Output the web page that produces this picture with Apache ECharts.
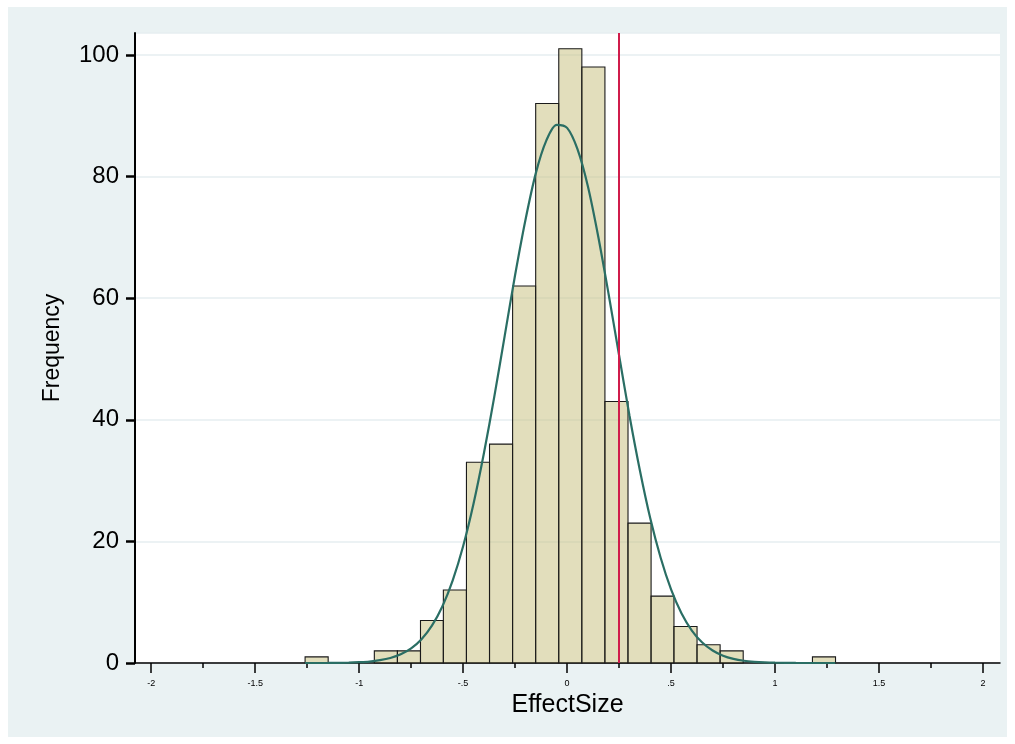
<!DOCTYPE html>
<html>
<head>
<meta charset="utf-8">
<script src="https://cdn.jsdelivr.net/npm/echarts@6/dist/echarts.min.js"></script>
<style>
  body { margin: 0; background: #fff; }
  #wrap { position: relative; width: 1015px; height: 744px; }
  #frame { position: absolute; left: 8px; top: 7px; width: 999px; height: 730px; background: #eaf2f3; }
  #plotbg { position: absolute; left: 135px; top: 33px; width: 865px; height: 630px; background: #fff; }
  #chart { position: absolute; left: 0; top: 0; width: 1015px; height: 744px; }
</style>
</head>
<body>
<div id="wrap">
  <div id="frame"></div>
  <div id="plotbg"></div>
  <div id="chart"></div>
</div>
<script>
// histogram bins (23 bins), edges
var binEdges = [-1.260, -1.149, -1.038, -0.927, -0.816, -0.705, -0.595, -0.484,
    -0.373, -0.262, -0.151, -0.040, 0.071, 0.182, 0.293, 0.404, 0.514, 0.625,
    0.736, 0.847, 0.958, 1.069, 1.180, 1.291];
var binCounts = [1, 0, 0, 2, 2, 7, 12, 33, 36, 62, 92, 101, 98, 43, 23, 11, 6, 3, 2, 0, 0, 0, 1];

// normal density overlay
var curveX = [-1.26, -1.15, -1.05, -1.0, -0.95, -0.9, -0.85, -0.8, -0.75, -0.7,
    -0.65, -0.6, -0.55, -0.5, -0.45, -0.4, -0.35, -0.3, -0.25, -0.2, -0.15, -0.1,
    -0.05, 0, 0.05, 0.1, 0.15, 0.2, 0.25, 0.3, 0.35, 0.4, 0.45, 0.5, 0.55, 0.6,
    0.65, 0.7, 0.75, 0.8, 0.85, 0.9, 0.95, 1.0, 1.1, 1.2, 1.29];
var curveY = [0.0, 0.01, 0.06, 0.13, 0.24, 0.46, 0.82, 1.43, 2.41, 3.92,
    6.14, 9.3, 13.6, 19.2, 26.2, 34.5, 43.8, 53.8, 63.8, 72.9, 80.6, 85.9,
    88.5, 88.0, 84.5, 78.4, 70.1, 60.6, 50.6, 40.7, 31.7, 23.8, 17.3, 12.1, 8.18, 5.34,
    3.36, 2.05, 1.2, 0.68, 0.37, 0.2, 0.1, 0.05, 0.01, 0.0, 0.0];

var refLine = 0.25;

var xMajor = [-2, -1.5, -1, -0.5, 0, 0.5, 1, 1.5, 2];
var xMinor = [-1.75, -1.25, -0.75, -0.25, 0.25, 0.75, 1.25, 1.75];

function drawHistogram() {
    var myChart = echarts.init(document.getElementById('chart'));

    var barData = [];
    binCounts.forEach(function(c, i) {
        if (c > 0) barData.push([binEdges[i], binEdges[i + 1], c]);
    });

    var option = {
        animation: false,
        grid: {
            left: 135, right: 15, top: 33, bottom: 81,
            show: false
        },
        xAxis: [
            {
                type: 'value',
                min: -2.078, max: 2.082,
                name: 'EffectSize',
                nameLocation: 'middle',
                nameGap: 30,
                nameTextStyle: { fontSize: 25, color: '#000', fontFamily: 'Liberation Sans' },
                axisLine: { show: true, onZero: false, lineStyle: { color: '#000', width: 1.5 } },
                axisTick: { show: true, length: 10, customValues: xMajor, lineStyle: { color: '#000', width: 1.5 } },
                axisLabel: {
                    customValues: xMajor,
                    fontSize: 9, color: '#000', margin: 16,
                    fontFamily: 'Liberation Sans',
                    formatter: function(v) {
                        return String(v).replace('0.', '.');
                    }
                },
                splitLine: { show: false }
            },
            {
                type: 'value',
                position: 'bottom',
                min: -2.078, max: 2.082,
                axisLine: { show: false, onZero: false },
                axisTick: { show: true, length: 5, customValues: xMinor, lineStyle: { color: '#000', width: 1.5 } },
                axisLabel: { show: false },
                splitLine: { show: false }
            }
        ],
        yAxis: {
            type: 'value',
            position: 'left',
            min: 0, max: 103.6,
            interval: 20,
            name: 'Frequency',
            nameLocation: 'middle',
            nameGap: 71,
            nameTextStyle: { fontSize: 23, color: '#000', fontFamily: 'Liberation Sans' },
            axisLine: { show: true, onZero: false, lineStyle: { color: '#000', width: 2 } },
            axisTick: { show: true, inside: false, length: 9, lineStyle: { color: '#000', width: 2.5 } },
            axisLabel: { fontSize: 24, color: '#000', margin: 16, fontFamily: 'Liberation Sans', showMaxLabel: false },
            splitLine: { show: true, lineStyle: { color: '#e6eef0', width: 1.5 } }
        },
        series: [
            {
                name: 'ref',
                type: 'line',
                z: 1,
                data: [],
                markLine: {
                    silent: true,
                    symbol: 'none',
                    label: { show: false },
                    lineStyle: { color: '#d01c4b', width: 2, type: 'solid' },
                    data: [{ xAxis: refLine }]
                }
            },
            {
                name: 'Frequency',
                type: 'custom',
                z: 2,
                renderItem: function(params, api) {
                    var p0 = api.coord([api.value(0), api.value(2)]);
                    var p1 = api.coord([api.value(1), 0]);
                    return {
                        type: 'rect',
                        shape: { x: p0[0], y: p0[1], width: p1[0] - p0[0], height: p1[1] - p0[1] },
                        style: { fill: 'rgba(197,189,121,0.5)', stroke: '#1a1a1a', lineWidth: 1.1 }
                    };
                },
                encode: { x: [0, 1], y: 2 },
                data: barData
            },
            {
                name: 'Normal',
                type: 'line',
                z: 3,
                smooth: 0.3,
                symbol: 'none',
                lineStyle: { color: '#2a6e64', width: 2.2 },
                data: curveX.map(function(e, i) {
                    return [e, curveY[i]];
                })
            }
        ]
    };

    myChart.setOption(option);
}

drawHistogram();
</script>
</body>
</html>
